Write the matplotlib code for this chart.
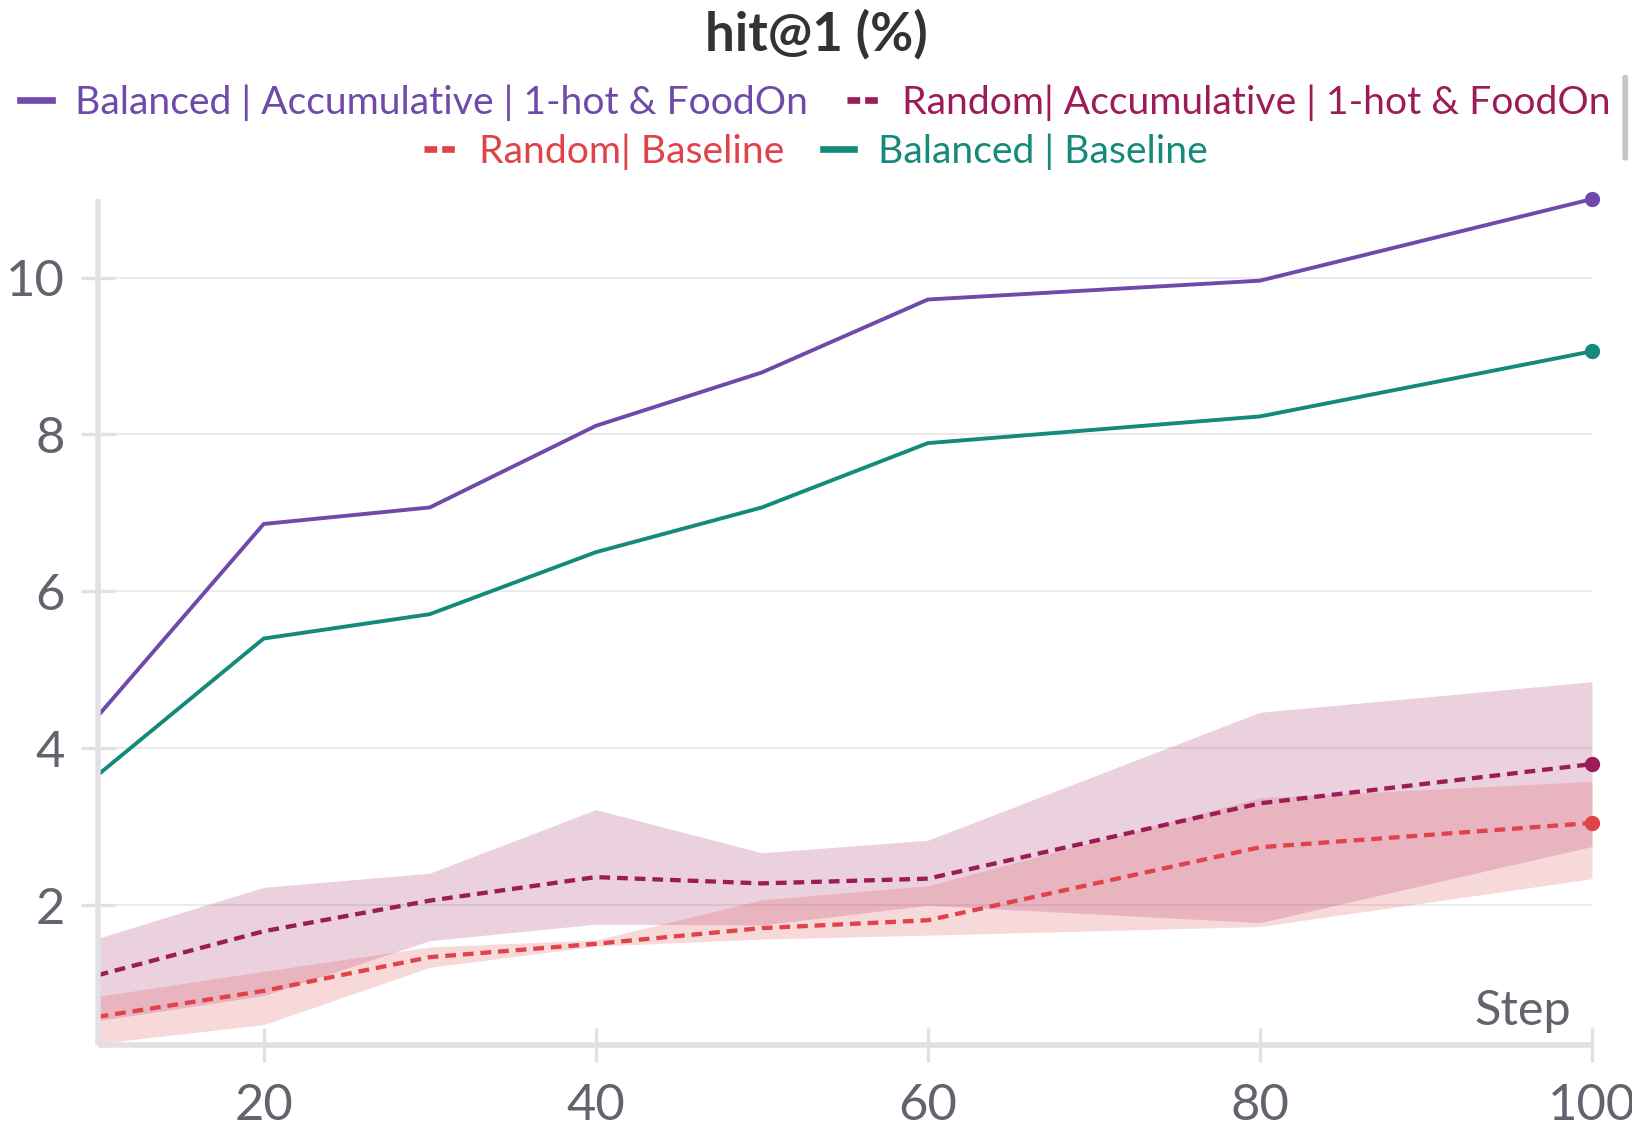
import matplotlib
matplotlib.use("Agg")
import matplotlib.pyplot as plt
from matplotlib.patches import FancyBboxPatch
import numpy as np

plt.rcParams['font.family'] = ['Lato', 'DejaVu Sans']

steps = [10, 20, 30, 40, 50, 60, 80, 100]

bal_acc = [4.41, 6.86, 7.07, 8.11, 8.79, 9.72, 9.96, 11.0]
bal_base = [3.66, 5.40, 5.71, 6.50, 7.07, 7.89, 8.23, 9.06]

rnd_acc = [1.11, 1.67, 2.06, 2.36, 2.28, 2.34, 3.30, 3.80]
rnd_acc_hi = [1.58, 2.23, 2.41, 3.22, 2.67, 2.83, 4.46, 4.85]
rnd_acc_lo = [0.53, 0.85, 1.55, 1.76, 1.75, 2.00, 1.78, 2.75]

rnd_base = [0.58, 0.91, 1.34, 1.51, 1.71, 1.81, 2.74, 3.05]
rnd_base_hi = [0.84, 1.16, 1.47, 1.56, 2.07, 2.25, 3.37, 3.58]
rnd_base_lo = [0.24, 0.48, 1.21, 1.48, 1.57, 1.62, 1.73, 2.34]

labels = ['Balanced | Accumulative | 1-hot & FoodOn',
          'Random| Accumulative | 1-hot & FoodOn',
          'Random| Baseline',
          'Balanced | Baseline']

purple = '#6f4aab'
magenta = '#9c1c57'
red = '#e0434a'
teal = '#148a7a'
axgray = '#e1e1e5'
txtgray = '#63636e'

fig = plt.figure(figsize=(16.33, 11.31), dpi=100)
ax = fig.add_axes([0.0598, 0.0760, 0.9151, 0.7480])

ax.fill_between(steps, rnd_acc_lo, rnd_acc_hi, color=magenta, alpha=0.2, lw=0)
ax.fill_between(steps, rnd_base_lo, rnd_base_hi, color=red, alpha=0.2, lw=0)

l1, = ax.plot(steps, bal_acc, color=purple, lw=2.8, label=labels[0])
l2, = ax.plot(steps, rnd_acc, color=magenta, lw=3.1, dashes=[2.5, 1.6], label=labels[1])
l3, = ax.plot(steps, rnd_base, color=red, lw=3.1, dashes=[2.5, 1.6], label=labels[2])
l4, = ax.plot(steps, bal_base, color=teal, lw=2.8, label=labels[3])

for ln, ys in [(l1, bal_acc), (l2, rnd_acc), (l3, rnd_base), (l4, bal_base)]:
    ax.plot(steps[-1], ys[-1], 'o', color=ln.get_color(), ms=10, clip_on=False, zorder=5)

ax.set_xlim(10, 100)
ax.set_ylim(0.22, 11.0)
ax.set_xticks([20, 40, 60, 80, 100])
ax.set_yticks([2, 4, 6, 8, 10])
ax.grid(axis='y', color='#ebebeb', lw=1.4)
ax.set_axisbelow(True)

for s in ['top', 'right']:
    ax.spines[s].set_visible(False)
for s in ['left', 'bottom']:
    ax.spines[s].set_color(axgray)
    ax.spines[s].set_linewidth(4)
    ax.spines[s].set_capstyle('butt')

ax.tick_params(axis='both', direction='inout', length=25, width=2.4, color=axgray,
               labelsize=36.5, labelcolor=txtgray)
ax.tick_params(axis='y', pad=11)
ax.tick_params(axis='x', pad=15)

ax.text(0.986, 0.014, 'Step', transform=ax.transAxes, ha='right', va='bottom',
        fontsize=35, color=txtgray)

fig.text(0.5, 0.970, 'hit@1 (%)', ha='center', va='center', fontsize=38,
         fontweight='bold', color='#333333')

leg_kw = dict(frameon=False, fontsize=28.2, ncol=2, handlelength=0.8,
              handletextpad=0.6, columnspacing=1.0, labelcolor='linecolor',
              loc='center', borderaxespad=0)
leg1 = fig.legend([l1, l2], labels[:2], bbox_to_anchor=(0.4995, 0.909), **leg_kw)
leg2 = fig.legend([l3, l4], labels[2:], bbox_to_anchor=(0.4995, 0.866), **leg_kw)
for leg in (leg1, leg2):
    for h in leg.legend_handles:
        h.set_linewidth(4.8)
        if h.get_linestyle() != '-':
            h.set_dashes([1.9, 0.75])

# scrollbar of the legend box
fig.patches.append(FancyBboxPatch((0.9935, 0.858), 0.0035, 0.076,
                                  boxstyle='round,pad=0,rounding_size=0.002',
                                  transform=fig.transFigure, color='#c6c6c6',
                                  lw=0))

fig.savefig('out.png', dpi=100, facecolor='white')
